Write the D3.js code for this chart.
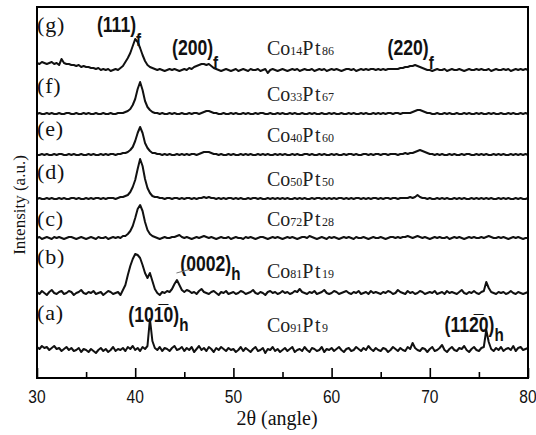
<!DOCTYPE html>
<html>
<head>
<meta charset="utf-8">
<script src="https://cdn.jsdelivr.net/npm/d3@7"></script>
<style>
  body { margin: 0; background: #fff; }
</style>
</head>
<body>
<script>
// sample letters, compositions, vertical offsets of each stacked pattern
const samples = ['(a)', '(b)', '(c)', '(d)', '(e)', '(f)', '(g)']
const coIndex = ['91', '81', '72', '50', '40', '33', '14']
const ptIndex = ['9', '19', '28', '50', '60', '67', '86']
const offsets = [28, 85, 140, 179, 223, 264, 308]

// intensities, one value every 0.25 deg from 30 to 80
const angleStart = 30, angleStep = 0.25
const traceA = `
3 1 4 2 3 0 2 4 1 2 -1 1 3 0 2 -1 0 2 -2 1
0 -2 1 -1 -3 0 2 -1 1 -2 0 3 -1 1 0 2 -1 3 1 4
0 2 -1 3 1 4 31 9 2 0 3 -1 2 1 -1 2 4 0 1 3
-1 2 0 3 -2 1 4 0 2 -1 3 1 -2 2 0 3 1 -1 2 0
1 -2 0 3 -1 2 0 -2 1 3 -1 0 2 -3 1 0 3 -1 1 -2
0 2 -1 1 3 -2 0 1 -1 3 0 -2 2 1 -1 0 3 -2 1 0
2 -1 1 3 0 -2 1 2 -1 0 3 1 -1 2 0 4 1 -1 2 0
-1 2 1 -2 0 3 1 -1 2 0 -1 3 1 7 2 0 -1 2 1 -2
1 3 -1 0 2 5 0 -2 1 3 0 -1 2 1 4 0 -2 1 3 0
-1 2 3 20 8 1 -1 2 0 3 -1 1 2 0 4 -1 2 3 0 1
2`
const traceB = `
1 -1 2 0 -2 1 3 0 -1 1 2 -1 0 2 1 -2 0 1 3 0
-1 1 0 2 -1 0 1 -2 0 2 1 -1 0 1 -2 3 8 18 27 34
39 38 35 28 20 15 20 12 4 0 -2 1 0 2 1 4 9 13 8 3
1 3 2 0 1 -1 2 4 1 0 -1 1 2 0 -2 1 0 2 -1 0
1 -1 0 2 1 -1 0 1 3 0 -1 1 0 -2 1 2 0 1 -1 0
2 0 1 -1 0 2 1 4 1 0 -1 1 0 2 -1 0 1 3 0 -1
0 2 1 -1 0 1 2 0 -1 1 0 2 -1 0 1 -1 2 0 1 0
-1 1 0 2 1 -1 0 3 1 0 -1 2 0 1 -1 0 2 1 -1 0
1 0 2 -1 0 1 -1 2 0 1 0 -1 1 3 0 -1 1 0 2 0
-1 1 2 11 5 1 0 -1 1 0 1 -1 0 2 0 -1 1 0 -1 0
1`
const traceC = `
0 1 -1 0 1 0 -1 1 0 1 0 -1 0 1 1 0 -1 0 1 0
-1 0 1 0 -1 1 0 0 1 -1 0 1 0 1 0 2 2 4 7 12
20 29 33 27 16 8 4 2 1 0 -1 0 1 0 0 1 1 2 3 1
0 1 0 -1 0 1 0 1 2 1 0 1 0 -1 0 1 0 0 1 -1
0 1 0 0 -1 1 0 1 0 -1 0 1 1 0 -1 0 1 0 1 0
-1 0 1 0 1 0 -1 0 1 1 0 2 1 0 -1 0 1 0 -1 1
0 1 0 -1 0 1 0 1 0 -1 1 0 0 1 0 -1 0 1 0 0
1 0 -1 0 1 1 0 1 0 1 1 2 1 0 1 2 1 0 1 0
-1 0 1 0 1 0 0 1 -1 0 1 0 1 0 -1 0 1 0 1 0
0 1 0 1 2 1 0 0 1 0 1 0 -1 0 1 0 1 0 -1 0
0`
const traceD = `
0 1 0 0 1 0 1 0 0 1 0 1 0 0 1 1 0 1 0 0
1 0 1 0 1 1 0 1 0 1 1 1 0 1 2 2 3 4 7 12
19 30 40 33 20 11 6 3 2 2 1 1 0 1 1 0 1 1 0 1
0 1 1 0 1 0 1 1 2 1 2 1 1 0 1 0 1 0 1 1
0 1 0 1 0 0 1 0 1 1 0 1 0 0 1 0 1 0 1 0
1 0 1 0 0 1 0 1 0 1 0 0 1 0 1 1 0 1 0 1
0 1 0 1 1 0 1 0 1 0 1 1 0 1 0 1 0 1 1 0
1 0 1 1 0 1 1 0 1 1 1 1 2 1 2 4 2 1 1 0
1 0 0 1 0 1 0 1 0 0 1 0 1 0 1 0 0 1 0 1
0 1 0 1 0 1 0 0 1 0 1 0 1 0 0 1 0 1 0 0
1`
const traceE = `
0 0 1 0 1 0 0 1 0 1 1 0 0 1 0 1 0 0 1 0
0 1 0 1 0 0 1 0 1 0 1 1 0 1 1 2 2 3 5 8
14 22 28 22 12 7 4 2 2 1 1 0 1 0 1 0 0 1 0 1
0 1 0 1 1 0 1 2 3 3 3 2 1 1 0 1 0 0 1 0
1 0 0 1 0 1 0 1 0 0 1 0 1 0 1 0 0 1 0 1
0 1 0 0 1 0 1 0 0 1 1 0 1 0 0 1 0 1 0 0
1 0 1 0 0 1 0 1 1 0 1 0 0 1 1 0 1 0 1 1
0 1 1 0 1 1 1 0 1 1 2 1 2 2 3 4 5 4 3 2
1 1 0 1 0 1 0 0 1 0 1 0 0 1 0 1 1 0 0 1
0 1 0 1 0 0 1 0 1 0 1 0 0 1 0 1 0 1 0 1
0`
const traceF = `
0 1 0 0 1 0 1 0 0 1 0 0 1 1 0 0 1 0 0 1
0 1 0 0 1 0 0 1 0 0 1 0 0 1 1 1 2 3 5 9
15 25 32 24 13 7 4 2 1 1 0 1 0 0 1 0 1 0 0 1
0 0 1 0 1 1 0 1 2 3 3 2 1 1 0 0 1 0 0 1
0 1 0 0 1 0 1 0 0 1 0 1 1 0 0 1 0 0 1 0
1 0 0 1 0 1 0 0 1 0 0 1 0 1 0 0 1 0 0 1
0 1 0 0 1 0 0 1 0 1 0 0 1 0 1 0 0 1 0 1
0 1 0 1 1 0 1 1 0 1 1 1 1 2 3 4 4 3 2 1
1 0 0 1 0 0 1 0 1 0 0 1 0 0 1 0 1 0 0 1
0 1 0 0 1 0 1 0 0 1 0 0 1 0 1 0 0 1 0 1
0`
const traceG = `
7 6 8 7 6 7 8 6 7 5 11 7 6 6 5 5 4 5 3 4
3 3 2 2 1 2 0 1 0 1 -1 0 1 0 2 4 8 12 17 24
31 28 22 15 9 5 3 2 1 0 1 0 -1 0 1 0 1 0 -1 0
1 0 2 1 3 4 5 6 6 5 6 4 2 1 0 -1 0 1 0 -1
0 1 -1 0 1 0 -1 1 0 0 1 -1 0 1 -3 0 1 0 -1 0
1 0 -1 0 1 0 1 -1 0 1 0 0 1 -1 0 1 0 1 -1 0
1 0 1 0 -1 0 1 1 0 1 -1 0 1 0 1 0 1 1 0 1
0 1 0 1 1 1 1 1 2 2 3 3 4 4 5 4 3 2 1 0
0 -1 0 1 0 0 1 -1 0 1 0 0 1 0 -1 0 1 0 0 1
0 1 0 0 1 -1 0 1 0 0 1 0 1 -1 0 1 0 1 0 1
0`
const traces = [traceA, traceB, traceC, traceD, traceE, traceF, traceG]

const xTicks = [30, 40, 50, 60, 70, 80]
const xMinorTicks = [35, 45, 55, 65, 75]

// reflection labels, anchored in data coordinates (angle, height)
const peakNames = ['(111)', '(200)', '(220)', '(0002)', '(10' + '1\u0305' + '0)', '(11' + '2\u0305' + '0)']
const peakSubs = ['f', 'f', 'f', 'h', 'h', 'h']
const peakAngles = [36.1, 43.75, 65.7, 44.6, 39.3, 71.5]
const peakLevels = [346, 323, 323, 107, 56, 46]

const svgWidth = 536, svgHeight = 435
const margin = {top: 7, right: 8, bottom: 57, left: 37}
const width = svgWidth - margin.left - margin.right,
  height = svgHeight - margin.top - margin.bottom

const svg = d3.select('body').append('svg')
  .attr('width', svgWidth)
  .attr('height', svgHeight)

const x = d3.scaleLinear().domain([30, 80]).range([0, width])
const y = d3.scaleLinear().domain([0, height]).range([height, 0])

const g = svg.append('g')
  .attr('transform', 'translate(' + margin.left + ',' + margin.top + ')')

const line = d3.line()
  .x(function(d) { return x(d[0]) })
  .y(function(d) { return y(d[1]) })

traces.forEach(function(str, k) {
  const vals = str.trim().split(/\s+/).map(Number)
  const pts = vals.map(function(v, i) { return [angleStart + i * angleStep, v + offsets[k]] })
  g.append('path')
    .datum(pts)
    .attr('fill', 'none')
    .attr('stroke', '#111')
    .attr('stroke-width', 2)
    .attr('stroke-linejoin', 'round')
    .attr('d', line)
})

// frame
g.append('rect')
  .attr('width', width)
  .attr('height', height)
  .attr('fill', 'none')
  .attr('stroke', '#000')
  .attr('stroke-width', 2)

// bottom ticks, pointing inward
const xAxis = d3.axisBottom(x).tickValues(xTicks).tickSize(-10).tickFormat('')
const xAxisMinor = d3.axisBottom(x).tickValues(xMinorTicks).tickSize(-6).tickFormat('')
g.append('g').attr('transform', 'translate(0,' + height + ')').call(xAxis)
  .call(function(s) { s.select('.domain').remove(); s.selectAll('line').attr('stroke-width', 1.6) })
g.append('g').attr('transform', 'translate(0,' + height + ')').call(xAxisMinor)
  .call(function(s) { s.select('.domain').remove(); s.selectAll('line').attr('stroke-width', 1.6) })

g.selectAll('.xlab')
  .data(xTicks)
  .enter().append('text')
  .attr('transform', function(d) { return 'translate(' + x(d) + ',' + (height + 25) + ') scale(0.82,1)' })
  .attr('text-anchor', 'middle')
  .style('font-family', 'Liberation Sans, Arial, sans-serif')
  .style('font-size', '19px')
  .attr('fill', '#111')
  .text(function(d) { return d })

// sample letters
const letterY = [320, 264, 226, 179, 136, 93, 32]
samples.forEach(function(s, k) {
  svg.append('text')
    .attr('x', 37).attr('y', letterY[k])
    .style('font-family', 'Liberation Serif, Times New Roman, serif')
    .style('font-size', '22px')
    .style('letter-spacing', '0.8px')
    .attr('fill', '#111')
    .text(s)
})

// compositions
const compY = [332, 278, 226, 186, 142, 101, 55]
coIndex.forEach(function(c, k) {
  const t = svg.append('text')
    .attr('x', 267).attr('y', compY[k])
    .style('font-family', 'Liberation Serif, Times New Roman, serif')
    .style('font-size', '20px')
    .attr('fill', '#222')
  t.append('tspan').text('Co')
  t.append('tspan').style('font-size', '12px').text(c)
  t.append('tspan').style('letter-spacing', '1.5px').text('Pt')
  t.append('tspan').style('font-size', '12px').text(ptIndex[k])
})

// reflection labels
peakNames.forEach(function(p, k) {
  const t = g.append('text')
    .attr('transform', 'translate(' + x(peakAngles[k]) + ',' + y(peakLevels[k]) + ') scale(0.8,1)')
    .style('font-family', 'Liberation Sans, Arial, sans-serif')
    .style('font-size', '22px')
    .style('font-weight', 'bold')
    .attr('fill', '#111')
  t.append('tspan').text(p)
  t.append('tspan').attr('dy', peakSubs[k] === 'f' ? 14 : 9).style('font-size', '19px').text(peakSubs[k])
})

// leader line to the (0002) peak
g.append('line')
  .attr('x1', x(44.2)).attr('y1', y(105))
  .attr('x2', x(45.7)).attr('y2', y(109))
  .attr('stroke', '#777')
  .attr('stroke-width', 1)

svg.append('text')
  .attr('transform', 'translate(25,205) rotate(-90)')
  .attr('text-anchor', 'middle')
  .style('font-family', 'Liberation Serif, Times New Roman, serif')
  .style('font-size', '17px')
  .attr('fill', '#111')
  .text('Intensity (a.u.)')

svg.append('text')
  .attr('x', 277).attr('y', 425)
  .attr('text-anchor', 'middle')
  .style('font-family', 'Liberation Serif, Times New Roman, serif')
  .style('font-size', '20px')
  .attr('fill', '#111')
  .text('2\u03b8 (angle)')
</script>
</body>
</html>
